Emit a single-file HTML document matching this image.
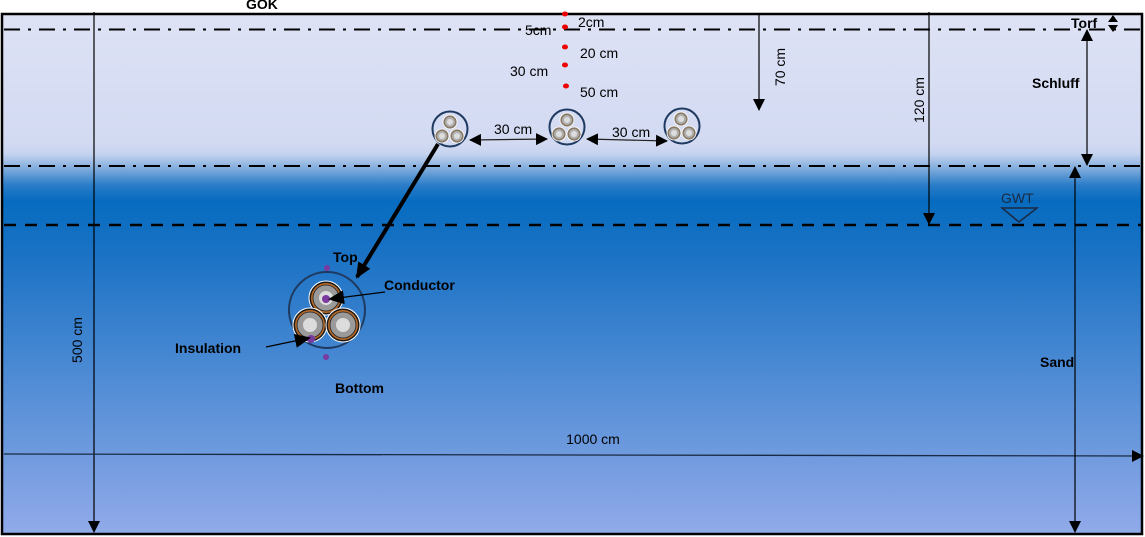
<!DOCTYPE html>
<html><head><meta charset="utf-8"><style>
html,body{margin:0;padding:0;background:#fff;width:1145px;height:537px;overflow:hidden}
svg{display:block}
text{font-family:"Liberation Sans",sans-serif}
</style></head><body>
<svg width="1145" height="537" viewBox="0 0 1145 537" xmlns="http://www.w3.org/2000/svg">
<defs>
<linearGradient id="bg" x1="0" y1="13" x2="0" y2="535" gradientUnits="userSpaceOnUse">
<stop offset="0" stop-color="#dee2f5"/>
<stop offset="0.25" stop-color="#d2daf2"/>
<stop offset="0.27" stop-color="#c6d3ef"/>
<stop offset="0.30" stop-color="#7ba9db"/>
<stop offset="0.33" stop-color="#2a7cc8"/>
<stop offset="0.36" stop-color="#066cbf"/>
<stop offset="0.45" stop-color="#1871c4"/>
<stop offset="0.75" stop-color="#5a91d8"/>
<stop offset="1" stop-color="#92aae9"/>
</linearGradient>
<marker id="ah" markerWidth="12" markerHeight="12" refX="11" refY="6" orient="auto-start-reverse" markerUnits="userSpaceOnUse"><path d="M0,0 L12,6 L0,12 Z" fill="#000"/></marker>
<marker id="ahs" markerWidth="16" markerHeight="14" refX="14" refY="7" orient="auto-start-reverse" markerUnits="userSpaceOnUse"><path d="M0,0 L16,7 L0,14 Z" fill="#000"/></marker>
<g id="sc"><circle r="7" fill="#8a7a66" stroke="#fff" stroke-width="0.8"/><circle r="5" fill="#b0b0b0"/><circle r="3" fill="#ddd"/></g>
<g id="bc"><circle r="17" fill="#1a1a1a" stroke="#fff" stroke-width="1"/><circle r="15" fill="#b86a28"/><circle r="13" fill="#9a9a9a" stroke="#222" stroke-width="0.8"/><circle r="7" fill="#dcdcdc"/></g>
</defs>
<rect x="2" y="14" width="1140" height="520" fill="url(#bg)" stroke="#000" stroke-width="2.5"/>
<line x1="4" y1="29.5" x2="1140" y2="29.5" stroke="#000" stroke-width="2" stroke-dasharray="16 8 3 8"/>
<line x1="4" y1="166" x2="1140" y2="166" stroke="#000" stroke-width="2" stroke-dasharray="16 8 3 8"/>
<line x1="4" y1="225" x2="1142" y2="225" stroke="#000" stroke-width="2.5" stroke-dasharray="12 9"/>
<text x="246" y="9" font-size="14" font-weight="bold">GOK</text>
<line x1="94" y1="12" x2="94" y2="532" stroke="#000" stroke-width="1.2" marker-end="url(#ah)"/>
<text transform="translate(82,340) rotate(-90)" font-size="14" text-anchor="middle">500 cm</text>
<line x1="4" y1="454" x2="1143" y2="456" stroke="#1a2a44" stroke-width="1.3" marker-end="url(#ah)"/>
<text x="593" y="444" font-size="14" text-anchor="middle">1000 cm</text>
<line x1="759" y1="14" x2="759" y2="110" stroke="#000" stroke-width="1.2" marker-end="url(#ah)"/>
<text transform="translate(785,67) rotate(-90)" font-size="14" text-anchor="middle">70 cm</text>
<line x1="929" y1="12" x2="929" y2="224" stroke="#000" stroke-width="1.2" marker-end="url(#ah)"/>
<text transform="translate(924,100) rotate(-90)" font-size="14" text-anchor="middle">120 cm</text>
<text x="1071" y="28" font-size="14" font-weight="bold">Torf</text>
<path d="M1113,15 l5,7 h-10 z M1113,32 l5,-7 h-10 z" fill="#000"/>
<line x1="1087" y1="30" x2="1087" y2="165" stroke="#000" stroke-width="1.2" marker-start="url(#ah)" marker-end="url(#ah)"/>
<text x="1032" y="88" font-size="14" font-weight="bold">Schluff</text>
<line x1="1075" y1="167" x2="1075" y2="532" stroke="#000" stroke-width="1.2" marker-start="url(#ah)" marker-end="url(#ah)"/>
<text x="1040" y="367" font-size="14" font-weight="bold">Sand</text>
<text x="1001" y="203" font-size="14" fill="#1a2a44">GWT</text>
<path d="M1002,208 L1037,208 L1019,222 Z" fill="none" stroke="#1a2a44" stroke-width="1.5"/>
<g fill="#e00">
<ellipse cx="565" cy="14" rx="3" ry="2.5"/><ellipse cx="565" cy="27" rx="3" ry="2.5"/><ellipse cx="565" cy="47" rx="3" ry="2.5"/><ellipse cx="565" cy="65" rx="3" ry="2.5"/><ellipse cx="566" cy="86" rx="3" ry="2.5"/>
</g>
<g font-size="14">
<text x="578" y="27">2cm</text>
<text x="525" y="35">5cm</text>
<text x="580" y="58">20 cm</text>
<text x="510" y="76">30 cm</text>
<text x="580" y="97">50 cm</text>
<text x="494" y="134">30 cm</text>
<text x="612" y="137">30 cm</text>
</g>
<g fill="none" stroke="#1f3a60" stroke-width="2">
<circle cx="450" cy="129" r="17.5"/><circle cx="567" cy="127" r="17.5"/><circle cx="682" cy="126" r="17.5"/>
</g>
<use href="#sc" x="450" y="122"/><use href="#sc" x="442" y="136"/><use href="#sc" x="457" y="136"/>
<use href="#sc" x="567" y="120"/><use href="#sc" x="559" y="134"/><use href="#sc" x="574" y="134"/>
<use href="#sc" x="681" y="119"/><use href="#sc" x="674" y="133"/><use href="#sc" x="689" y="133"/>
<line x1="470" y1="140" x2="547" y2="139" stroke="#222" stroke-width="1.2" marker-start="url(#ah)" marker-end="url(#ah)"/>
<line x1="587" y1="139" x2="667" y2="141" stroke="#222" stroke-width="1.2" marker-start="url(#ah)" marker-end="url(#ah)"/>
<line x1="438" y1="144" x2="357" y2="277" stroke="#000" stroke-width="4" marker-end="url(#ahs)"/>
<circle cx="327" cy="310" r="38" fill="none" stroke="#1f3a60" stroke-width="2"/>
<use href="#bc" x="326" y="298"/><use href="#bc" x="310" y="325"/><use href="#bc" x="343" y="325"/>
<g fill="#7a3aa0"><circle cx="327" cy="268" r="3"/><circle cx="326" cy="299" r="4"/><circle cx="311" cy="339" r="4"/><circle cx="326" cy="357" r="3"/></g>
<line x1="385" y1="292" x2="330" y2="299" stroke="#000" stroke-width="1.2" marker-end="url(#ahs)"/>
<line x1="266" y1="347" x2="309" y2="338" stroke="#000" stroke-width="1.2" marker-end="url(#ahs)"/>
<g font-size="14" font-weight="bold">
<text x="333" y="262">Top</text>
<text x="384" y="290">Conductor</text>
<text x="175" y="353">Insulation</text>
<text x="335" y="393">Bottom</text>
</g>
</svg>
</body></html>
